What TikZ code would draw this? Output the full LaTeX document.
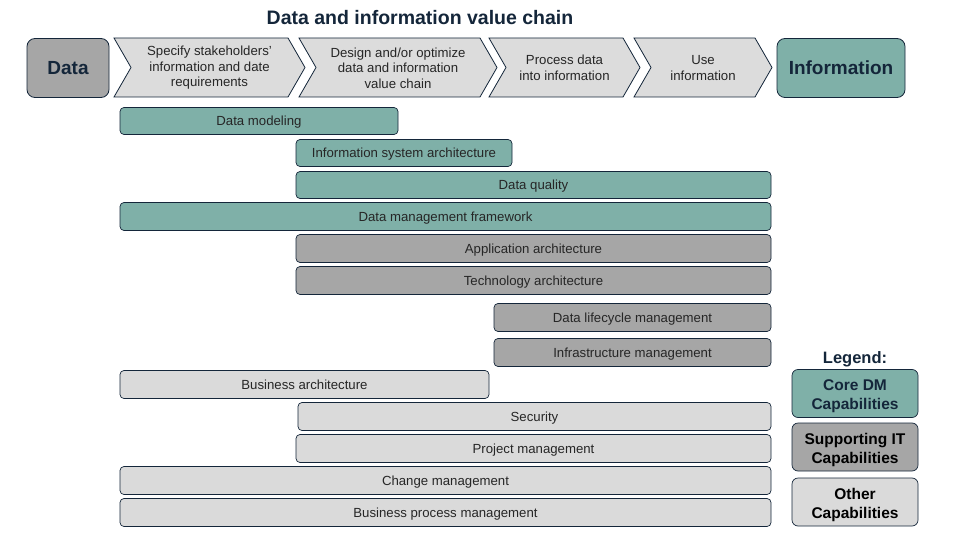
\documentclass[tikz,border=0pt]{standalone}
\usepackage{fontspec}
\setmainfont{Liberation Sans}
\definecolor{navy}{HTML}{14263A}
\definecolor{coreC}{HTML}{7FB0A8}
\definecolor{suppC}{HTML}{A6A6A6}
\definecolor{otherC}{HTML}{DADADA}
\definecolor{chevC}{HTML}{DCDCDC}
\newcommand{\chevron}[5]{%
  \draw[chevstyle] (#1,38) -- (#2-17,38) -- (#2,67.5) -- (#2-17,97) -- (#1,97) -- (#1+17,67.5) -- cycle;
  \node[chevtext] (#3) at ({(#1+#2)/2},68) {#4};}
\newcommand{\capbar}[6]{%
  \node[bar,fill=#1,minimum width={#4-#3},minimum height={#6-#5}] (#2) at ({(#3+#4)/2},{(#5+#6)/2+0.5})}
\begin{document}
\begin{tikzpicture}[x=1pt,y=-1pt,
  chevstyle/.style={draw=navy,line width=0.8pt,fill=chevC,line join=miter},
  chevtext/.style={align=center,font=\fontsize{13.2}{15.5}\selectfont,text=black!85,inner sep=0pt},
  endbox/.style={draw=navy,line width=0.8pt,rounded corners=8pt,minimum width=82pt,minimum height=59pt,font=\fontsize{19}{20}\selectfont\bfseries,text=navy,inner sep=0pt},
  bar/.style={draw=navy,line width=0.7pt,rounded corners=4pt,inner sep=0pt,font=\fontsize{13.2}{14}\selectfont,text=black!85,text depth=0pt,text height=9.5pt},
  legbox/.style={draw=navy,line width=0.7pt,rounded corners=6pt,minimum width=126pt,minimum height=48pt,inner sep=0pt},
  legtext/.style={align=center,inner sep=0pt,font=\fontsize{15.5}{19}\selectfont\bfseries}]
\useasboundingbox[fill=white] (0,0) rectangle (960,540);
\node[font=\fontsize{19.5}{20}\selectfont\bfseries,text=navy] (title) at (420,18) {Data and information value chain};
\node[endbox,fill=suppC] (data) at (68,68) {Data};
\node[endbox,fill=coreC,minimum width=128pt] (info) at (841,68) {Information};
\chevron{114}{305}{c1}{Specify stakeholders’\\information and date\\requirements}{}
\chevron{299}{497}{c2}{Design and/or optimize\\data and information\\value chain}{}
\chevron{489}{640}{c3}{Process data\\into information}{}
\chevron{634}{772}{c4}{Use\\information}{}
\capbar{coreC}{b1}{120}{398}{107}{134} {Data modeling};
\capbar{coreC}{b2}{296}{512}{139}{166} {Information system architecture};
\capbar{coreC}{b3}{296}{771}{171}{198} {Data quality};
\capbar{coreC}{b4}{120}{771}{202}{230} {Data management framework};
\capbar{suppC}{b5}{296}{771}{234}{262} {Application architecture};
\capbar{suppC}{b6}{296}{771}{266}{294} {Technology architecture};
\capbar{suppC}{b7}{494}{771}{303}{331} {Data lifecycle management};
\capbar{suppC}{b8}{494}{771}{338}{366} {Infrastructure management};
\capbar{otherC}{b9}{120}{489}{370}{398} {Business architecture};
\capbar{otherC}{b10}{298}{771}{402}{430} {Security};
\capbar{otherC}{b11}{296}{771}{434}{462} {Project management};
\capbar{otherC}{b12}{120}{771}{466}{494} {Change management};
\capbar{otherC}{b13}{120}{771}{498}{526} {Business process management};
\node[font=\fontsize{16.5}{18}\selectfont\bfseries,text=navy] (leg) at (855,359) {Legend:};
\node[legbox,fill=coreC] (l1) at (855,393.5) {};
\node[legbox,fill=suppC] (l2) at (855,447) {};
\node[legbox,fill=otherC] (l3) at (855,502) {};
\node[legtext,text=navy,yshift=-3pt] (t1) at (l1.center) {Core DM\\Capabilities};
\node[legtext,text=black,yshift=-3pt] (t2) at (l2.center) {Supporting IT\\Capabilities};
\node[legtext,text=black,yshift=-3pt] (t3) at (l3.center) {Other\\Capabilities};
\end{tikzpicture}
\end{document}
